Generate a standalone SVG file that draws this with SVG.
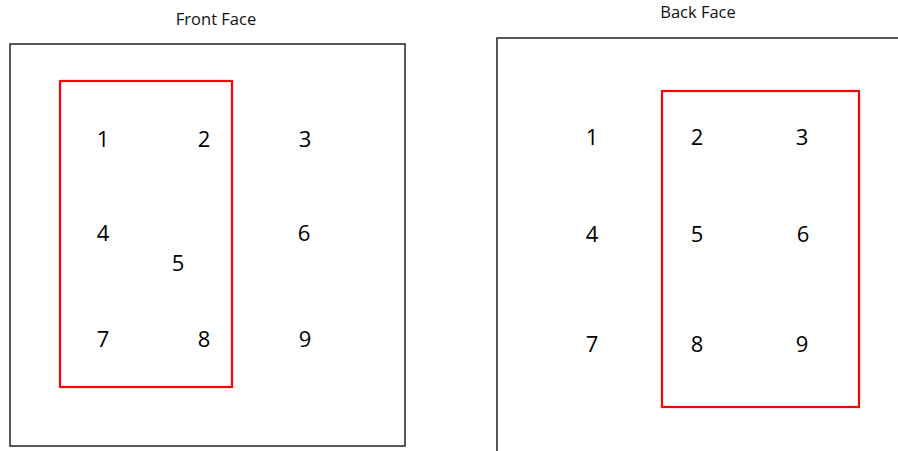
<svg xmlns="http://www.w3.org/2000/svg" width="898" height="451" viewBox="0 0 898 451">
<style>
.face{fill:none;stroke:#222;stroke-width:1.5}
.sel{fill:none;stroke:#ff0000;stroke-width:2.2}
.num{font-family:"Open Sans","Noto Sans",sans-serif;font-size:22px;fill:#000;text-anchor:middle}
.ttl{font-family:"Open Sans","Noto Sans",sans-serif;font-size:16.5px;fill:#111;text-anchor:middle}
</style>
<rect width="898" height="451" fill="#fff"/>
<g id="front-face">
<text class="ttl" x="216" y="25">Front Face</text>
<rect class="face" x="10" y="44" width="395" height="402"/>
<rect class="sel" x="60" y="81" width="172" height="306"/>
<text class="num" x="103" y="147">1</text>
<text class="num" x="204" y="147">2</text>
<text class="num" x="305" y="147">3</text>
<text class="num" x="103" y="241">4</text>
<text class="num" x="178" y="271">5</text>
<text class="num" x="304" y="241">6</text>
<text class="num" x="103" y="347">7</text>
<text class="num" x="204" y="347">8</text>
<text class="num" x="305" y="347">9</text>
</g>
<g id="back-face">
<text class="ttl" x="698" y="18">Back Face</text>
<path class="face" d="M497 451 V38 H900"/>
<rect class="sel" x="662" y="91" width="197" height="316"/>
<text class="num" x="592" y="145">1</text>
<text class="num" x="697" y="145">2</text>
<text class="num" x="802" y="145">3</text>
<text class="num" x="592" y="242">4</text>
<text class="num" x="697" y="242">5</text>
<text class="num" x="803" y="242">6</text>
<text class="num" x="592" y="352">7</text>
<text class="num" x="697" y="352">8</text>
<text class="num" x="802" y="352">9</text>
</g>
<g id="connectors"/>
</svg>
